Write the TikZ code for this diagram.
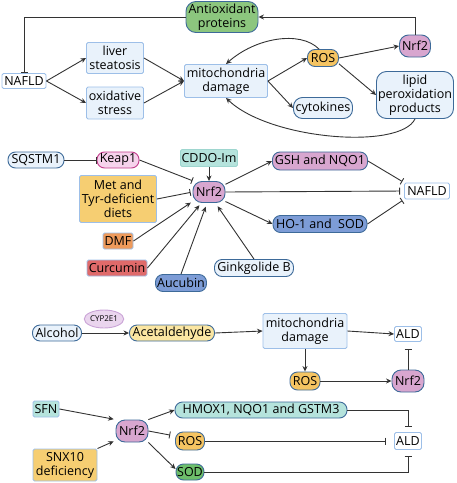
\documentclass[tikz,border=0pt]{standalone}
\usepackage{fontspec}
\setmainfont{Open Sans}
\usepackage{tikz}
\usetikzlibrary{arrows.meta,shapes.geometric}
\definecolor{lineC}{HTML}{333333}
\definecolor{bordL}{HTML}{9DBFE8}
\definecolor{fillL}{HTML}{E9F2FB}
\definecolor{bordD}{HTML}{3D6A99}
\definecolor{greenA}{HTML}{8CC67E}
\definecolor{orangeR}{HTML}{F5C462}
\definecolor{purpN}{HTML}{D8A6CF}
\definecolor{pinkK}{HTML}{F6D3EC}
\definecolor{bordK}{HTML}{C13B8A}
\definecolor{tealC}{HTML}{B5E3DC}
\definecolor{bordT}{HTML}{9ED6CF}
\definecolor{yellowM}{HTML}{F6CE72}
\definecolor{orangeD}{HTML}{EE9A5B}
\definecolor{redC}{HTML}{E06A6A}
\definecolor{blueH}{HTML}{7D9CD6}
\definecolor{purpC}{HTML}{EAD5EE}
\definecolor{bordC}{HTML}{C9A3D6}
\definecolor{yellowA}{HTML}{FBE6A2}
\definecolor{greenS}{HTML}{6DBE6A}
\newcommand{\lblNrf}{Nrf2}
\newcommand{\lblRos}{ROS}
\newcommand{\lblNafld}{NAFLD}
\newcommand{\lblAld}{ALD}
\newcommand{\lblMito}{mitochondria\\damage}

\begin{document}
\begin{tikzpicture}[x=1pt,y=-1pt,font=\fontsize{12.5}{14}\selectfont,
  sz/.style 2 args={minimum width=#1pt,minimum height=#2pt},
  box/.style={draw=bordL,fill=fillL,rounded corners=1.5pt,line width=0.9pt,inner sep=0.5pt,align=center},
  pill/.style={draw=bordD,fill=fillL,rounded corners=7.5pt,line width=0.9pt,inner sep=0.5pt,align=center},
  arr/.style={draw=lineC,line width=0.9pt,-{Stealth[length=5.5pt,width=5pt]}},
  inh/.style={draw=lineC,line width=0.9pt,-{Bar[width=7pt]}}]
\useasboundingbox (0,0) rectangle (457,483);

% NAFLD and oxidative stress
\node[pill,fill=greenA,sz={72}{31},rounded corners=10pt] (antioxA) at (222, 17) {Antioxidant\\proteins};
\node[box,fill=white,sz={44}{15}]            (nafldA)  at ( 24, 81) {\lblNafld};
\node[box,sz={57}{31}]                       (liver)   at (115, 58) {liver\\steatosis};
\node[box,sz={57}{32}]                       (oxid)    at (115,103) {oxidative\\stress};
\node[box,sz={83}{33}]                       (mitoA)   at (226, 81) {\lblMito};
\node[pill,fill=orangeR,sz={31}{17}]         (rosA)    at (323, 58) {\lblRos};
\node[pill,fill=purpN,sz={31}{22},rounded corners=9pt] (nrfA) at (415, 46) {\lblNrf};
\node[pill,sz={59}{21},rounded corners=9pt]  (cyto)    at (323,108) {cytokines};
\node[pill,sz={77}{47},rounded corners=10pt] (lipid)   at (415, 95) {lipid\\peroxidation\\products};

\draw[arr] (nrfA.north) |- (antioxA.east);
\draw[inh] (antioxA.west) -| (nafldA.north);
\draw[arr] (nafldA.east) -- (liver.west);
\draw[arr] (nafldA.east) -- (oxid.west);
\draw[arr] (liver.east) -- (mitoA.west);
\draw[arr] (oxid.east) -- (mitoA.west);
\draw[arr] (mitoA.east) -- (rosA.west);
\draw[arr] (mitoA.east) -- (cyto.west);
\draw[arr] (rosA.east) -- (nrfA.west);
\draw[arr] (rosA.-20) -- (lipid.west);
\draw[arr] ([xshift=-4pt]rosA.north) .. controls (300,30) and (255,38) .. (mitoA.north);
\draw[arr] (lipid.south) .. controls (400,150) and (270,140) .. (mitoA.south);

% activators and inhibitors of Nrf2
\node[pill,sz={56}{16}]                          (sqstm)  at ( 36,160) {SQSTM1};
\node[pill,draw=bordK,fill=pinkK,sz={42}{16}]    (keap)   at (118,160) {Keap1};
\node[box,draw=bordT,fill=tealC,sz={57}{17}]     (cddo)   at (209,158) {CDDO-Im};
\node[pill,fill=purpN,sz={32}{21},rounded corners=9pt] (nrfB) at (209,192) {\lblNrf};
\node[box,fill=yellowM,sz={77}{47}]              (met)    at (118,199) {Met and\\Tyr-deficient\\diets};
\node[box,fill=orangeD,sz={30}{16}]              (dmf)    at (118,241) {DMF};
\node[box,fill=redC,sz={60}{16}]                 (curc)   at (117,268) {Curcumin};
\node[pill,fill=blueH,sz={51}{17}]               (aucu)   at (181,283) {Aucubin};
\node[pill,sz={79}{17}]                          (ginkgo) at (254,268) {Ginkgolide B};
\node[pill,fill=purpN,sz={95}{18}]               (gsh)    at (320,161) {GSH and NQO1};
\node[box,fill=white,sz={45}{16}]                (nafldB) at (427,191) {\lblNafld};
\node[pill,fill=blueH,sz={94}{17}]               (ho)     at (320,224) {HO-1 and\ \ SOD};

\draw[inh] (sqstm.east) -- (keap.west);
\draw[inh,shorten >=1pt] (keap.east) -- (nrfB.145);
\draw[arr] (cddo.south) -- (nrfB.north);
\draw[inh,shorten >=2pt] (met.east) -- (nrfB.west);
\draw[arr,shorten >=2pt] (dmf.east) -- (nrfB.210);
\draw[arr,shorten >=3pt] (curc.east) -- (nrfB.235);
\draw[arr,shorten >=4pt] (aucu.north) -- (nrfB.260);
\draw[arr,shorten >=4pt] (ginkgo.north) -- (nrfB.300);
\draw[arr] (nrfB.25) -- (gsh.west);
\draw[arr] (nrfB.-30) -- (ho.west);
\draw[inh,shorten >=4pt] (nrfB.east) -- (nafldB.west);
\draw[inh,shorten >=2pt] (gsh.east) -- (nafldB.north west);
\draw[inh,shorten >=2pt] (ho.east) -- (nafldB.south west);

% alcohol metabolism
\node[pill,sz={49}{16}]                          (alc)    at ( 57,333) {Alcohol};
\node[ellipse,draw=bordC,fill=purpC,line width=0.9pt,inner sep=0pt,sz={39}{18},font=\fontsize{8}{9}\selectfont] (cyp) at (104,319) {CYP2E1};
\node[pill,fill=yellowA,sz={85}{16}]             (acet)   at (172,333) {Acetaldehyde};
\node[box,sz={84}{35}]                           (mitoC)  at (305,331) {\lblMito};
\node[box,fill=white,sz={27}{15}]                (aldA)   at (408,334) {\lblAld};
\node[pill,fill=orangeR,sz={30}{18}]             (rosC)   at (305,381) {\lblRos};
\node[pill,fill=purpN,sz={32}{22},rounded corners=9pt] (nrfC) at (408,381) {\lblNrf};

\draw[arr] (alc.east) -- (acet.west);
\draw[arr] (acet.east) -- (mitoC.west);
\draw[arr] (mitoC.east) -- (aldA.west);
\draw[arr] (mitoC.south) -- (rosC.north);
\draw[arr] (rosC.east) -- (nrfC.west);
\draw[inh,shorten >=7pt] (nrfC.north) -- (aldA.south);

% Nrf2 in ALD
\node[box,fill=tealC,sz={26}{16}]                (sfn)    at ( 46,409) {SFN};
\node[box,fill=yellowM,sz={64}{32}]              (snx)    at ( 65,465) {SNX10\\deficiency};
\node[pill,fill=purpN,sz={32}{22},rounded corners=9pt] (nrfD) at (132,431) {\lblNrf};
\node[pill,fill=tealC,sz={172}{16}]              (hmox)   at (261,410) {HMOX1, NQO1 and GSTM3};
\node[pill,fill=orangeR,sz={29}{18}]             (rosD)   at (190,441) {\lblRos};
\node[pill,fill=greenS,sz={28}{16}]              (sod)    at (190,472) {SOD};
\node[box,fill=white,sz={27}{17}]                (aldB)   at (408,441) {\lblAld};

\draw[arr,shorten >=2pt] (sfn.east) -- (nrfD.145);
\draw[arr,shorten >=2pt] (snx.north east) -- (nrfD.210);
\draw[arr] (nrfD.35) -- (hmox.west);
\draw[inh,shorten >=5pt] (nrfD.east) -- ([yshift=5pt]rosD.west);
\draw[arr] (nrfD.-35) -- ([yshift=3pt]sod.west);
\draw[inh,shorten >=5pt] (hmox.east) -| (aldB.north);
\draw[inh,shorten >=8pt] (rosD.east) -- (aldB.west);
\draw[inh,shorten >=6pt] (sod.east) -| (aldB.south);
\end{tikzpicture}
\end{document}
